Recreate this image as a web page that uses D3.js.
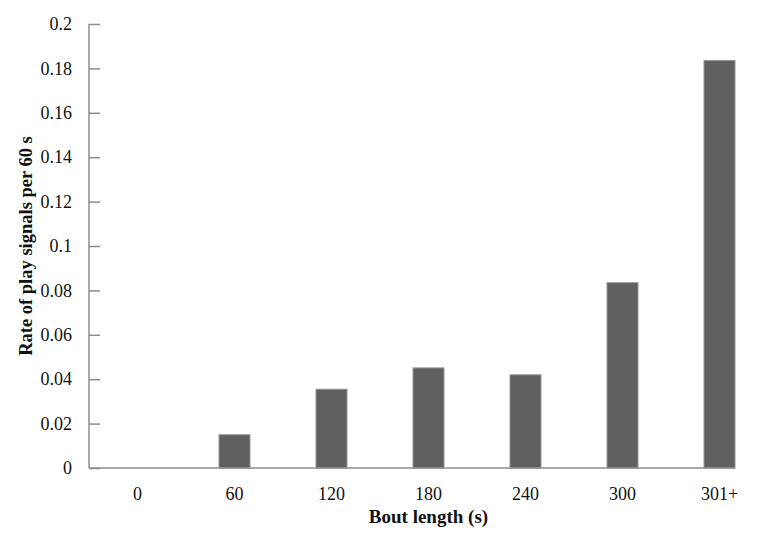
<!DOCTYPE html>
<html>
<head>
<meta charset="utf-8">
<script src="https://cdn.jsdelivr.net/npm/d3@7"></script>
<style>
  body { margin: 0; background: #fff; }
  svg { display: block; font-family: "Liberation Serif", "Times New Roman", serif; }
</style>
</head>
<body>
<div id="chart"></div>
<script>
// bout length categories and rate of play signals
const categories = ["0", "60", "120", "180", "240", "300", "301+"];
const rates = [0, 0.015, 0.0355, 0.0451, 0.042, 0.0835, 0.1836];
const yTicks = [0, 0.02, 0.04, 0.06, 0.08, 0.1, 0.12, 0.14, 0.16, 0.18, 0.2];

const width = 759, height = 537;
const margin = {top: 24, right: 0, bottom: 69, left: 89};

const svg = d3.select("#chart").append("svg")
  .attr("width", width)
  .attr("height", height);

const x = d3.scaleBand()
  .domain(categories)
  .range([margin.left, margin.left + 97 * categories.length])
  .paddingInner(0.68)
  .paddingOuter(0.34);

const y = d3.scaleLinear()
  .domain([0, 0.2])
  .range([height - margin.bottom, margin.top]);

const axisColor = "#8c8c8c";
const serif = "Liberation Serif, Times New Roman, serif";

// y axis with inside ticks
const yAxis = svg.append("g")
  .attr("transform", `translate(${margin.left},0)`)
  .call(d3.axisLeft(y).tickValues(yTicks).tickSize(-11).tickPadding(17)
    .tickFormat(d => d3.format("~g")(d)));
yAxis.attr("font-family", serif);
yAxis.select(".domain").remove();
yAxis.selectAll(".tick line").attr("stroke", axisColor).attr("stroke-width", 1.5);
yAxis.selectAll(".tick text")
  .attr("font-size", 18)
  .attr("fill", "#111");
yAxis.append("line")
  .attr("x1", 0).attr("x2", 0)
  .attr("y1", y(0.2)).attr("y2", y(0))
  .attr("stroke", axisColor).attr("stroke-width", 1.5);

// bars
svg.append("g")
  .selectAll("rect")
  .data(rates)
  .join("rect")
    .attr("x", (d, i) => x(categories[i]))
    .attr("y", d => y(d))
    .attr("width", x.bandwidth())
    .attr("height", d => y(0) - y(d))
    .attr("fill", "#606060")
    .attr("stroke", d => d > 0 ? "#9a9a9a" : "none")
    .attr("stroke-width", 1);

// x axis
const xAxis = svg.append("g")
  .attr("transform", `translate(0,${y(0)})`)
  .call(d3.axisBottom(x).tickSize(0).tickPadding(19));
xAxis.attr("font-family", serif);
xAxis.select(".domain").remove();
xAxis.selectAll(".tick text")
  .attr("font-size", 18)
  .attr("fill", "#111");
const lastCat = categories[categories.length - 1];
xAxis.append("line")
  .attr("x1", margin.left)
  .attr("x2", x(lastCat) + x.bandwidth())
  .attr("y1", 0).attr("y2", 0)
  .attr("stroke", axisColor).attr("stroke-width", 1.5);

// axis titles
svg.append("text")
  .attr("x", x("180") + x.bandwidth() / 2)
  .attr("y", 523)
  .attr("text-anchor", "middle")
  .attr("font-family", serif)
  .attr("font-size", 19)
  .attr("font-weight", "bold")
  .attr("fill", "#111")
  .text("Bout length (s)");

svg.append("text")
  .attr("transform", `translate(32,${(y(0) + y(0.2)) / 2}) rotate(-90)`)
  .attr("text-anchor", "middle")
  .attr("font-family", serif)
  .attr("font-size", 18.5)
  .attr("font-weight", "bold")
  .attr("fill", "#111")
  .text("Rate of play signals per 60 s");
</script>
</body>
</html>
